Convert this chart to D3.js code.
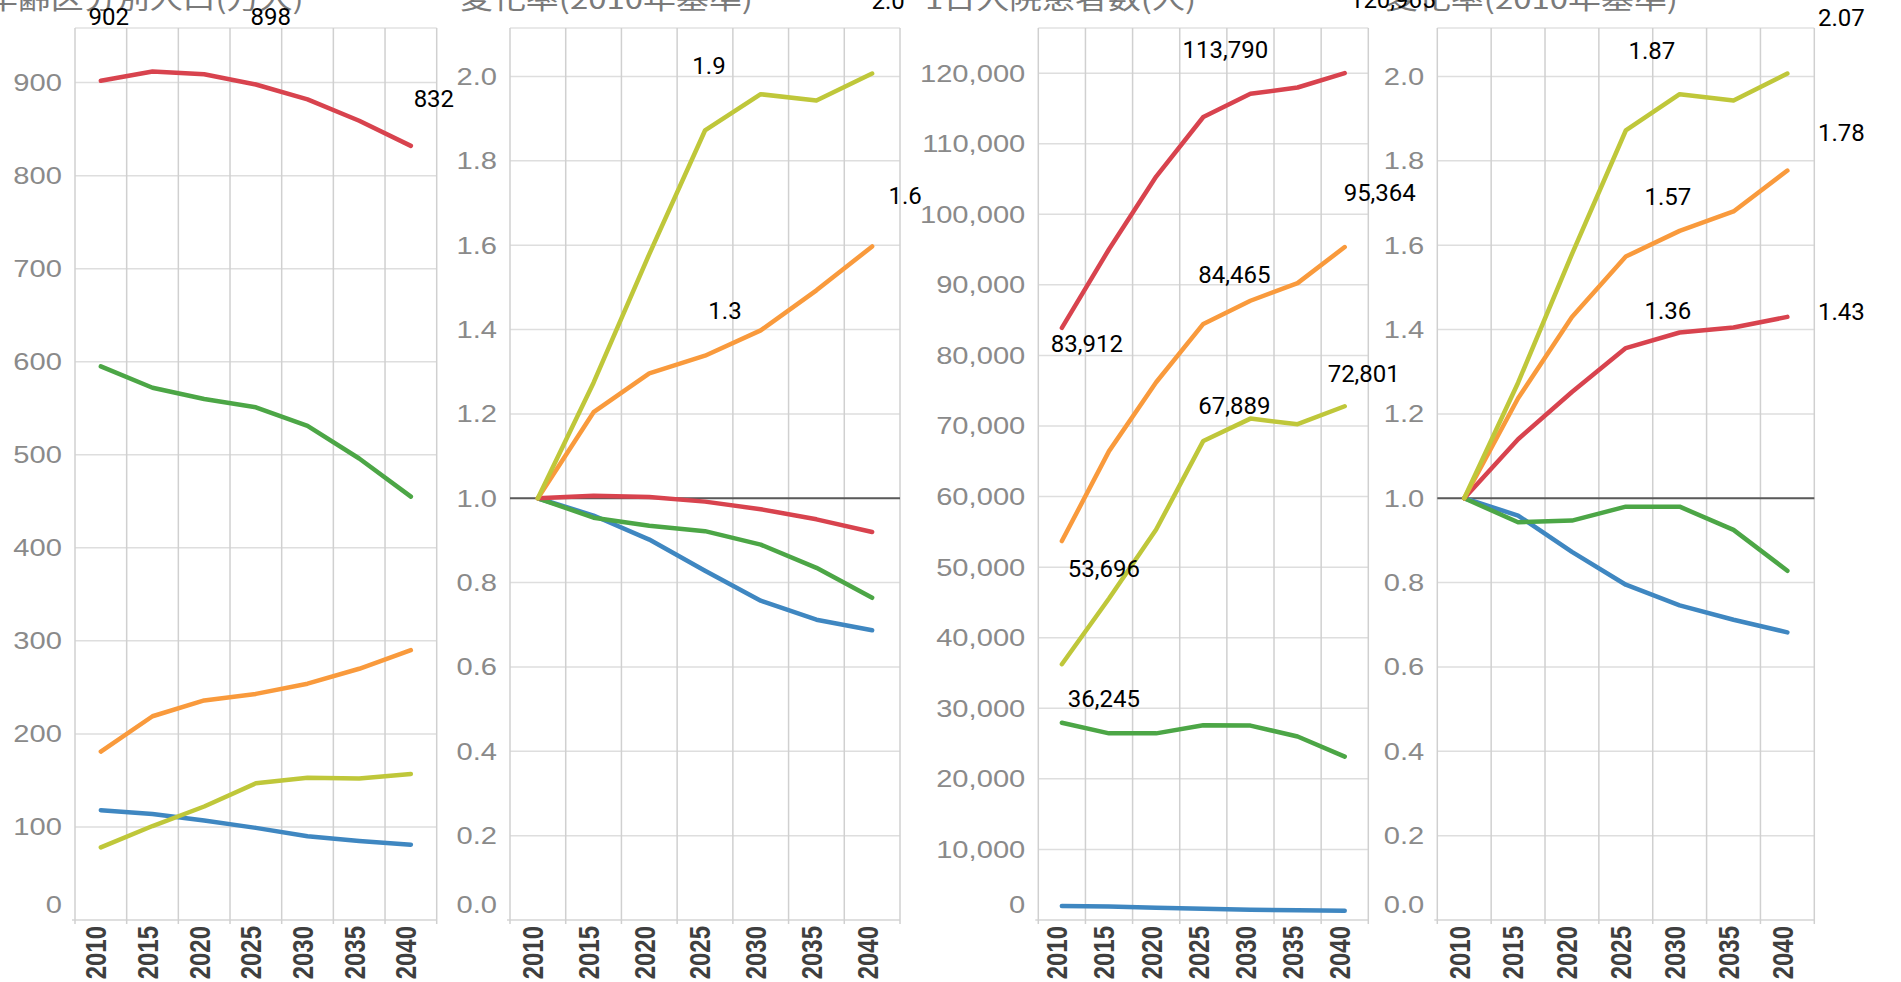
<!DOCTYPE html>
<html>
<head>
<meta charset="utf-8">
<script src="https://cdn.jsdelivr.net/npm/d3@7"></script>
<style>
html,body{margin:0;padding:0;background:#fff;overflow:hidden;}
svg{display:block;}
</style>
</head>
<body>
<svg id="chart" width="1901" height="982"></svg>
<script>
// ---------- DATA ----------
const years = [2010, 2015, 2020, 2025, 2030, 2035, 2040];
const seriesNames = ["総数", "15-64歳", "65歳以上", "75歳以上", "0-14歳"];

// Panel 1: 年齢区分別人口(万人)
const popTotal   = [902, 912, 909, 898, 882, 859, 832];
const popWorking = [595, 572, 560, 551, 531, 496, 455];
const pop65      = [181, 219, 236, 243, 254, 270, 290];
const pop75      = [78, 101, 122, 147, 153, 152, 157];
const popChild   = [118, 114, 107, 99, 90, 85, 81];

// Panel 2: 変化率(2010年基準) of population
const popRateTotal   = [1, 1.006, 1.003, 0.992, 0.974, 0.950, 0.920];
const popRateWorking = [1, 0.954, 0.935, 0.922, 0.890, 0.835, 0.764];
const popRate65      = [1, 1.204, 1.296, 1.338, 1.398, 1.493, 1.597];
const popRate75      = [1, 1.274, 1.579, 1.872, 1.958, 1.943, 2.007];
const popRateChild   = [1, 0.959, 0.902, 0.828, 0.757, 0.712, 0.687];

// Panel 3: 1日入院患者数(人)
const inpTotal   = [83912, 95050, 105350, 113790, 117080, 117970, 120010];
const inpWorking = [27960, 26450, 26450, 27600, 27550, 26000, 23160];
const inp65      = [53696, 66440, 76200, 84465, 87750, 90250, 95364];
const inp75      = [36245, 45550, 55330, 67889, 71050, 70260, 72801];
const inpChild   = [2000, 1900, 1750, 1600, 1450, 1380, 1300];

// Panel 4: 変化率(2010年基準) of inpatients
const inpRateTotal   = [1, 1.140, 1.252, 1.356, 1.393, 1.405, 1.430];
const inpRateWorking = [1, 0.943, 0.947, 0.980, 0.980, 0.925, 0.828];
const inpRate65      = [1, 1.237, 1.430, 1.573, 1.634, 1.680, 1.777];
const inpRate75      = [1, 1.274, 1.579, 1.872, 1.958, 1.943, 2.007];
const inpRateChild   = [1, 0.959, 0.873, 0.795, 0.746, 0.712, 0.682];

const titles = ["年齢区分別人口(万人)", "変化率(2010年基準)", "1日入院患者数(人)", "変化率(2010年基準)"];
const yTicks1 = [0, 100, 200, 300, 400, 500, 600, 700, 800, 900];
const yTicksRate = [0, 0.2, 0.4, 0.6, 0.8, 1.0, 1.2, 1.4, 1.6, 1.8, 2.0];
const yTicks3 = [0, 10000, 20000, 30000, 40000, 50000, 60000, 70000, 80000, 90000, 100000, 110000, 120000];

// value labels: [text, series index, year index]
const labels1 = [["902", 0, 0], ["898", 0, 3], ["832", 0, 6]];
const labels2 = [["1.9", 3, 3], ["2.0", 3, 6], ["1.3", 2, 3], ["1.6", 2, 6]];
const labels3 = [["83,912", 0, 0], ["113,790", 0, 3], ["120,965", 0, 6],
                 ["53,696", 2, 0], ["84,465", 2, 3], ["95,364", 2, 6],
                 ["36,245", 3, 0], ["67,889", 3, 3], ["72,801", 3, 6]];
const labels4 = [["1.87", 3, 3], ["2.07", 3, 6], ["1.57", 2, 3], ["1.78", 2, 6], ["1.36", 0, 3], ["1.43", 0, 6]];

// ---------- LAYOUT / STYLE ----------
const colors = ["#d8434e", "#4ca646", "#f99a3c", "#bfc73a", "#3f87c1"];
const drawOrder = [4, 1, 0, 2, 3];
const plotTop = 28, plotBottom = 920;
// label offsets (dx, dy) relative to the labelled point, per panel
const labelOffsets = [
  [[8, -56], [15, -59], [23, -39]],
  [[4, -56], [16, -65], [20, -37], [33, -42]],
  [[25, 24], [22, -59], [48, -65], [42, 36], [31, -41], [35, -46], [42, 43], [31, -27], [19, -24]],
  [[26, -71], [54, -48], [42, -52], [54, -30], [42, -29], [54, 3]]
];
const panels = [
  { left: 75, right: 436.7, ymax: 958.7, ticks: yTicks1, fmt: d3.format("d"), ref: false,
    data: [popTotal, popWorking, pop65, pop75, popChild], labels: labels1, titleX: -15 },
  { left: 510, right: 900, ymax: 2.115, ticks: yTicksRate, fmt: d3.format(".1f"), ref: true,
    data: [popRateTotal, popRateWorking, popRate65, popRate75, popRateChild], labels: labels2, titleX: 460 },
  { left: 1038.3, right: 1368.3, ymax: 126400, ticks: yTicks3, fmt: d3.format(","), ref: false,
    data: [inpTotal, inpWorking, inp65, inp75, inpChild], labels: labels3, titleX: 925 },
  { left: 1437.3, right: 1814.3, ymax: 2.115, ticks: yTicksRate, fmt: d3.format(".1f"), ref: true,
    data: [inpRateTotal, inpRateWorking, inpRate65, inpRate75, inpRateChild], labels: labels4, titleX: 1385 }
];

const svg = d3.select("#chart");
const gTitles = svg.append("g");
const gPanels = svg.append("g");
const gLabels = svg.append("g");

panels.forEach((p, pi) => {
  const x = d3.scaleBand().domain(years).range([p.left, p.right]).paddingInner(0).paddingOuter(0);
  const y = d3.scaleLinear().domain([0, p.ymax]).range([plotBottom, plotTop]);
  const cx = d => x(d) + x.bandwidth() / 2;
  const g = gPanels.append("g");

  // title (clipped at top of page)
  gTitles.append("text")
    .attr("transform", `translate(${p.titleX},9) scale(1.22,1)`)
    .attr("font-family", "'Noto Sans CJK JP', sans-serif")
    .attr("font-size", 27)
    .attr("fill", "#7a7a7a")
    .text(titles[pi]);

  // horizontal grid
  g.append("g").selectAll("line").data(p.ticks.filter(t => t > 0)).join("line")
    .attr("x1", p.left).attr("x2", p.right)
    .attr("y1", d => y(d)).attr("y2", d => y(d))
    .attr("stroke", "#dedede").attr("stroke-width", 1.5);
  // frame top / bottom
  g.append("line").attr("x1", p.left).attr("x2", p.right).attr("y1", plotTop).attr("y2", plotTop)
    .attr("stroke", "#e2e2e2").attr("stroke-width", 1.5);
  g.append("line").attr("x1", p.left - 3).attr("x2", p.right).attr("y1", plotBottom).attr("y2", plotBottom)
    .attr("stroke", "#d4d4d4").attr("stroke-width", 1.5);
  // vertical grid (band boundaries)
  const bounds = years.map(d => x(d)).concat([p.right]);
  g.append("g").selectAll("line").data(bounds).join("line")
    .attr("x1", d => d).attr("x2", d => d)
    .attr("y1", plotTop).attr("y2", plotBottom + 4)
    .attr("stroke", "#d0d0d0").attr("stroke-width", 1.5);

  // y tick labels
  g.append("g").selectAll("text").data(p.ticks).join("text")
    .attr("transform", d => `translate(${p.left - 13},${Math.min(y(d), plotBottom - 15)}) scale(1.24,1)`)
    .attr("text-anchor", "end")
    .attr("dy", "0.36em")
    .attr("font-family", "'Liberation Sans', Arial, sans-serif")
    .attr("font-size", 23.5)
    .attr("fill", "#8a8a8a")
    .text(d => p.fmt(d));

  // x tick labels (rotated)
  g.append("g").selectAll("text").data(years).join("text")
    .attr("transform", d => `translate(${cx(d) - 5},926) scale(1.2,1) rotate(-90)`)
    .attr("text-anchor", "end")
    .attr("dy", "0.36em")
    .attr("font-family", "'Liberation Sans', Arial, sans-serif")
    .attr("font-weight", "bold")
    .attr("font-size", 24)
    .attr("fill", "#3f3f3f")
    .text(d => d);

  // reference line at 1.0
  if (p.ref) {
    g.append("line").attr("x1", p.left).attr("x2", p.right)
      .attr("y1", y(1)).attr("y2", y(1))
      .attr("stroke", "#5a5a5a").attr("stroke-width", 2);
  }

  // lines
  const line = d3.line().x((d, i) => cx(years[i])).y(d => y(d));
  drawOrder.forEach(si => {
    g.append("path").datum(p.data[si])
      .attr("d", line)
      .attr("fill", "none")
      .attr("stroke", colors[si])
      .attr("stroke-width", 4.5)
      .attr("stroke-linejoin", "round")
      .attr("stroke-linecap", "round");
  });

  // value labels
  p.labels.forEach((lb, li) => {
    const [txt, si, yi] = lb;
    const off = labelOffsets[pi][li];
    gLabels.append("text")
      .attr("x", cx(years[yi]) + off[0])
      .attr("y", y(p.data[si][yi]) + off[1])
      .attr("text-anchor", "middle")
      .attr("font-family", "Roboto, sans-serif")
      .attr("font-size", 24)
      .attr("fill", "#000")
      .text(txt);
  });
});
</script>
</body>
</html>
